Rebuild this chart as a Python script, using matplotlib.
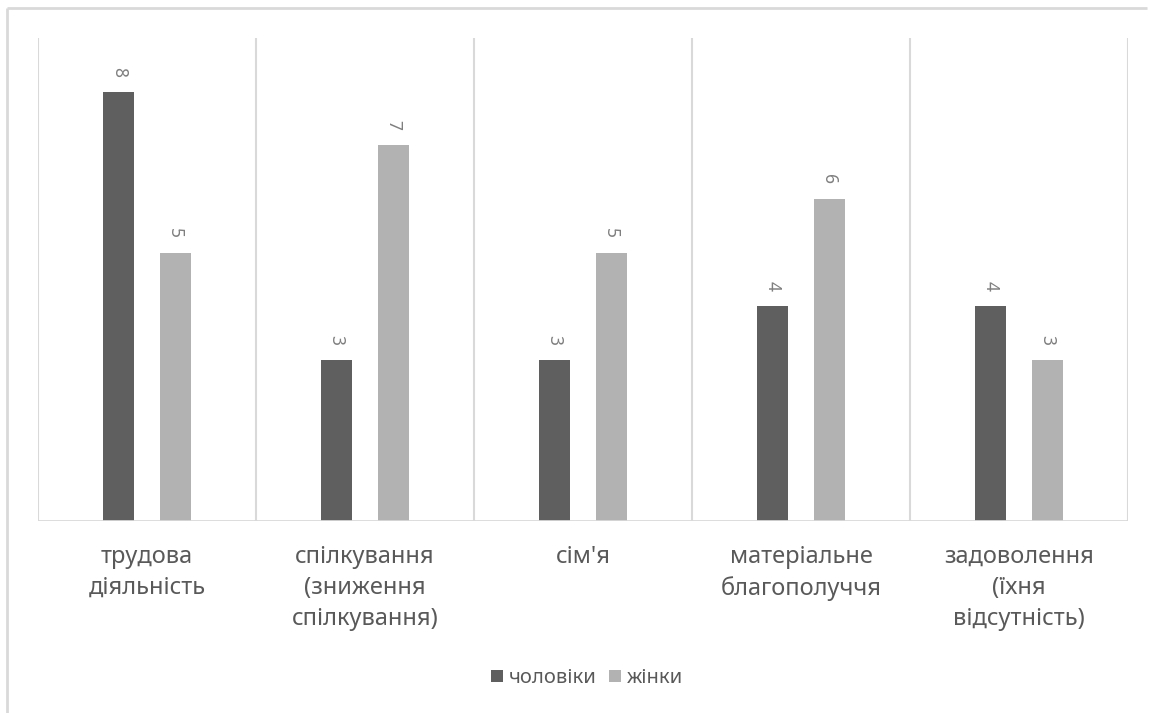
import matplotlib
matplotlib.use("Agg")
from matplotlib import pyplot as plt
from matplotlib.lines import Line2D
from matplotlib.patches import Patch
import numpy as np

# survey counts per life sphere
categories = ["трудова\nдіяльність",
              "спілкування\n(зниження\nспілкування)",
              "сім'я",
              "матеріальне\nблагополуччя",
              "задоволення\n(їхня\nвідсутність)"]
men = [8, 3, 3, 4, 4]
women = [5, 7, 5, 6, 3]
series_names = ["чоловіки", "жінки"]

DARK = "#5f5f5f"
LIGHT = "#b2b2b2"
GRID = "#d9d9d9"
TEXT = "#595959"

plt.rcParams['font.family'] = ['Noto Sans', 'DejaVu Sans']

fig = plt.figure(figsize=(11.51, 7.13), dpi=100)
ax = fig.add_axes([38 / 1151, 1 - 521 / 713, (1128 - 38) / 1151, (521 - 38) / 713])

# chart frame: only the top and left edges fall inside the image
fx, fy = 7 / 1151, 1 - 8 / 713
fig.lines.append(Line2D([fx, 1147 / 1151], [fy, fy], transform=fig.transFigure, color=GRID,
                        linewidth=2, solid_capstyle="butt"))
fig.lines.append(Line2D([fx, fx], [0, fy], transform=fig.transFigure, color=GRID, linewidth=2,
                        solid_capstyle="butt"))

x = np.arange(len(categories))
w = 0.14
off = 0.13
bars_m = ax.bar(x - off, men, w, color=DARK)
bars_w = ax.bar(x + off, women, w, color=LIGHT)

for bars in (bars_m, bars_w):
    for b in bars:
        ax.text(b.get_x() + b.get_width() / 2, b.get_height() + 0.28, str(int(b.get_height())),
                rotation=270, ha="center", va="bottom", fontsize=12.5, color="#7f7f7f")

ax.set_xlim(-0.5, len(categories) - 0.5)
ax.set_ylim(0, 9)

# separators between categories
for b in np.arange(-0.5, len(categories), 1.0):
    ax.axvline(b, color=GRID, linewidth=1.5, zorder=0)

for s in ax.spines.values():
    s.set_visible(False)
ax.axhline(0, color=GRID, linewidth=2, zorder=3)
ax.set_yticks([])
ax.set_xticks([])

for i, lab in enumerate(categories):
    ax.text(i, -0.45, lab, ha="center", va="top", fontsize=17, color=TEXT,
            linespacing=1.38)

handles = [Patch(facecolor=DARK), Patch(facecolor=LIGHT)]
fig.legend(handles, series_names, loc="center", bbox_to_anchor=(587 / 1151, 1 - 678 / 713),
           ncol=2, frameon=False, fontsize=14.5, handlelength=0.6, handleheight=0.6,
           handletextpad=0.3, columnspacing=0.6, labelcolor=TEXT)

fig.savefig("out.png", dpi=100)
